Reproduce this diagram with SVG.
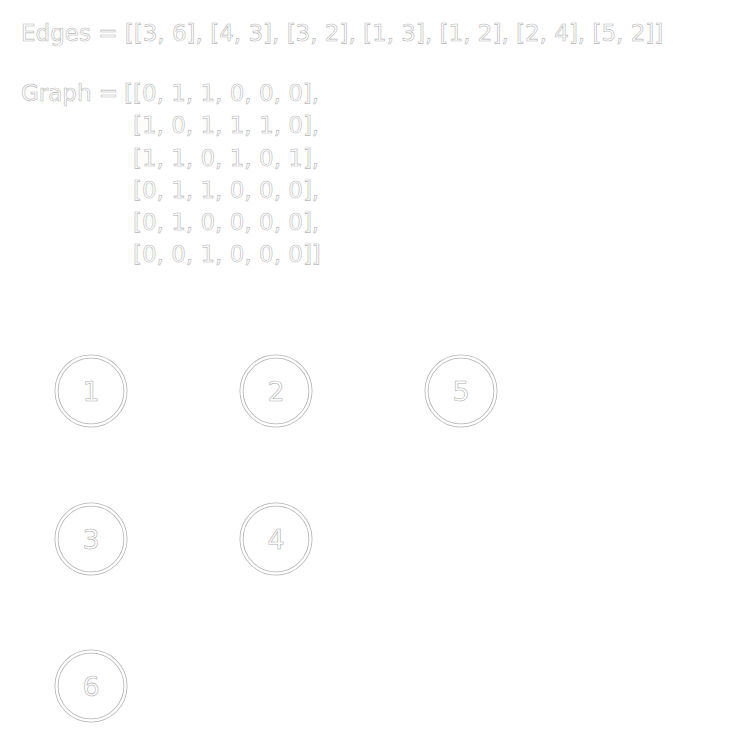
<svg xmlns="http://www.w3.org/2000/svg" width="742" height="747" viewBox="0 0 742 747">
<style>
  .t { font-family: "DejaVu Sans", sans-serif; font-size: 23px; fill: #ffffff; stroke: #b8b8b8; stroke-width: 0.6px; white-space: pre; }
  .lbl { font-family: "DejaVu Sans", sans-serif; font-size: 27px; fill: #ffffff; stroke: #b0b0b0; stroke-width: 0.6px; text-anchor: middle; }
  .ring { fill: #ffffff; stroke: #b4b4b4; stroke-width: 4; }
  .ringin { fill: none; stroke: #ffffff; stroke-width: 2.4; }
</style>
<rect width="742" height="747" fill="#ffffff"/>
<g id="text">
  <text class="t" x="21" y="41">Edges = [[3, 6], [4, 3], [3, 2], [1, 3], [1, 2], [2, 4], [5, 2]]</text>
  <text class="t" x="21" y="101">Graph =</text>
  <text class="t" x="124" y="101">[[0, 1, 1, 0, 0, 0],</text>
  <text class="t" x="133" y="133">[1, 0, 1, 1, 1, 0],</text>
  <text class="t" x="133" y="165.5">[1, 1, 0, 1, 0, 1],</text>
  <text class="t" x="133" y="197.5">[0, 1, 1, 0, 0, 0],</text>
  <text class="t" x="133" y="230">[0, 1, 0, 0, 0, 0],</text>
  <text class="t" x="133" y="262">[0, 0, 1, 0, 0, 0]]</text>
</g>
<g id="connectors"></g>
<g id="node1"><circle class="ring" cx="91" cy="391" r="34.5"/><circle class="ringin" cx="91" cy="391" r="34.5"/><text class="lbl" x="91" y="401">1</text></g>
<g id="node2"><circle class="ring" cx="276" cy="391" r="34.5"/><circle class="ringin" cx="276" cy="391" r="34.5"/><text class="lbl" x="276" y="401">2</text></g>
<g id="node5"><circle class="ring" cx="461" cy="391" r="34.5"/><circle class="ringin" cx="461" cy="391" r="34.5"/><text class="lbl" x="461" y="401">5</text></g>
<g id="node3"><circle class="ring" cx="91" cy="539" r="34.5"/><circle class="ringin" cx="91" cy="539" r="34.5"/><text class="lbl" x="91" y="549">3</text></g>
<g id="node4"><circle class="ring" cx="276" cy="539" r="34.5"/><circle class="ringin" cx="276" cy="539" r="34.5"/><text class="lbl" x="276" y="549">4</text></g>
<g id="node6"><circle class="ring" cx="91" cy="686" r="34.5"/><circle class="ringin" cx="91" cy="686" r="34.5"/><text class="lbl" x="91" y="696">6</text></g>
</svg>
